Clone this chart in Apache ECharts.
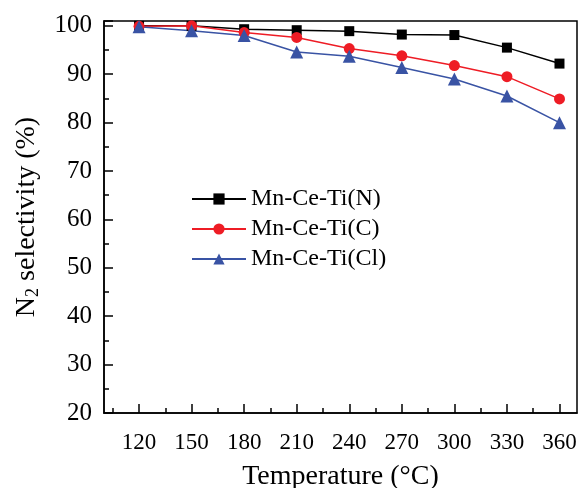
<!DOCTYPE html>
<html><head><meta charset="utf-8">
<script src="https://cdn.jsdelivr.net/npm/echarts@6/dist/echarts.min.js"></script>
<style>html,body{margin:0;padding:0;background:#fff}#c{width:583px;height:488px}</style>
</head><body><div id="c"></div>
<script>
const temps = [120, 150, 180, 210, 240, 270, 300, 330, 360];
const nSel = [100, 100, 99.3, 99.1, 98.9, 98.2, 98.1, 95.5, 92.2];
const cSel = [99.9, 100, 98.6, 97.6, 95.3, 93.8, 91.8, 89.5, 84.9];
const clSel = [99.8, 99.0, 98.0, 94.6, 93.7, 91.4, 89.0, 85.5, 80.0];
const seriesNames = ['Mn-Ce-Ti(N)', 'Mn-Ce-Ti(C)', 'Mn-Ce-Ti(Cl)'];
const yTickLabels = [20, 30, 40, 50, 60, 70, 80, 90, 100];
const xTickLabels = [120, 150, 180, 210, 240, 270, 300, 330, 360];
const xMinorTicks = [105, 135, 165, 195, 225, 255, 285, 315, 345];

const FONT = "'Liberation Serif','Times New Roman',serif";
const chart = echarts.init(document.getElementById('c'));
const gridRect = {left: 104, right: 6, top: 21, bottom: 75, containLabel: false, outerBoundsMode: 'none'};
const pair = (arr) => temps.map((t, i) => [t, arr[i]]);
chart.setOption({
  animation: false,
  backgroundColor: '#fff',
  grid: [
    Object.assign({show: true, borderColor: '#000', borderWidth: 1.5, backgroundColor: 'transparent'}, gridRect),
    Object.assign({show: false}, gridRect)
  ],
  legend: {
    left: 186, top: 182, orient: 'vertical',
    itemWidth: 54, itemHeight: 14, itemGap: 6,
    data: seriesNames,
    textStyle: {fontFamily: FONT, fontSize: 24, color: '#000', lineHeight: 24, padding: [0, 0, 0, 0]}
  },
  xAxis: [{
    gridIndex: 0, type: 'value', min: 100, max: 370,
    axisLine: {lineStyle: {color: '#000', width: 1.5}},
    axisTick: {inside: true, length: 9, customValues: xTickLabels, lineStyle: {color: '#000', width: 1.5}},
    splitLine: {show: false},
    axisLabel: {fontFamily: FONT, fontSize: 23, color: '#000', margin: 18, customValues: xTickLabels},
    name: 'Temperature (°C)', nameLocation: 'middle', nameGap: 50,
    nameTextStyle: {fontFamily: FONT, fontSize: 28, color: '#000'}
  }, {
    gridIndex: 1, type: 'value', min: 100, max: 370,
    axisLine: {show: false},
    axisTick: {inside: true, length: 5, customValues: xMinorTicks, lineStyle: {color: '#000', width: 1.5}},
    axisLabel: {show: false}, splitLine: {show: false}
  }],
  yAxis: [{
    gridIndex: 0, type: 'value', min: 20, max: 101, interval: 10,
    axisLine: {lineStyle: {color: '#000', width: 1.5}},
    axisTick: {inside: true, length: 9, lineStyle: {color: '#000', width: 1.5}},
    splitLine: {show: false},
    axisLabel: {fontFamily: FONT, fontSize: 25, color: '#000', margin: 12,
      formatter: v => yTickLabels.indexOf(v) >= 0 ? String(v) : ''},
    name: '{a|N}{s|2}{a| selectivity (%)}', nameLocation: 'middle', nameGap: 62, nameRotate: 90,
    nameTextStyle: {rich: {
      a: {fontFamily: FONT, fontSize: 28, color: '#000', lineHeight: 30},
      s: {fontFamily: FONT, fontSize: 18, color: '#000', verticalAlign: 'bottom', lineHeight: 30}
    }}
  }, {
    gridIndex: 1, type: 'value', min: 20, max: 101, interval: 5,
    axisLine: {show: false},
    axisTick: {inside: true, length: 5, lineStyle: {color: '#000', width: 1.5}},
    axisLabel: {show: false}, splitLine: {show: false}
  }],
  series: [
    {name: seriesNames[0], type: 'line', data: pair(nSel), symbol: 'rect', symbolSize: 10,
     itemStyle: {color: '#000'}, lineStyle: {color: '#000', width: 1.5}},
    {name: seriesNames[1], type: 'line', data: pair(cSel), symbol: 'circle', symbolSize: 11,
     itemStyle: {color: '#ee1c25'}, lineStyle: {color: '#ee1c25', width: 1.5}},
    {name: seriesNames[2], type: 'line', data: pair(clSel), symbol: 'triangle', symbolSize: 13,
     itemStyle: {color: '#3953a4'}, lineStyle: {color: '#3953a4', width: 1.5}}
  ]
});
</script></body></html>
